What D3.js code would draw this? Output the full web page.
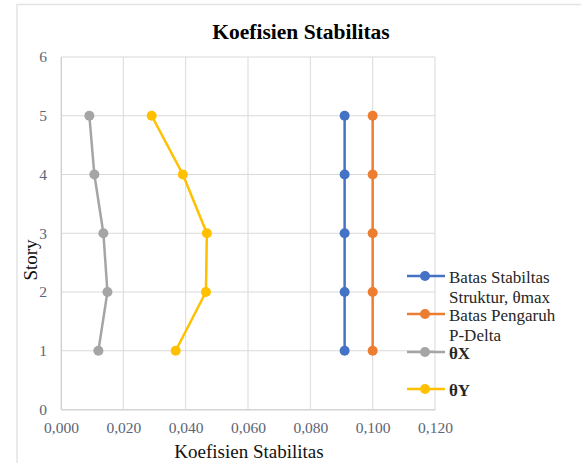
<!DOCTYPE html>
<html>
<head>
<meta charset="utf-8">
<script src="https://cdn.jsdelivr.net/npm/d3@7"></script>
<style>
  html, body { margin: 0; padding: 0; background: #fff; }
  svg { display: block; }
  text { font-family: "Liberation Serif", "Times New Roman", serif; }
</style>
</head>
<body>
<svg id="chart" width="581" height="463"></svg>
<script>
// ---- Data ----
const stories = [1, 2, 3, 4, 5];
const thetaMax = [0.091, 0.091, 0.091, 0.091, 0.091];
const pDelta = [0.100, 0.100, 0.100, 0.100, 0.100];
const thetaX = [0.0120, 0.0149, 0.0136, 0.0107, 0.0091];
const thetaY = [0.0368, 0.0465, 0.0468, 0.0391, 0.0291];
const seriesNames = [["Batas Stabiltas", "Struktur, θmax"], ["Batas Pengaruh", "P-Delta"], ["θX"], ["θY"]];
const seriesColors = ["#4472C4", "#ED7D31", "#A5A5A5", "#FFC000"];
const xTicks = [0, 0.02, 0.04, 0.06, 0.08, 0.10, 0.12];
const yTicks = [0, 1, 2, 3, 4, 5, 6];
const chartTitle = "Koefisien Stabilitas";
const xTitle = "Koefisien Stabilitas";
const yTitle = "Story";

const seriesValues = [thetaMax, pDelta, thetaX, thetaY];

// ---- Layout ----
const svg = d3.select("#chart");
const x = d3.scaleLinear().domain([0, 0.12]).range([61, 435]);
const y = d3.scaleLinear().domain([0, 6]).range([409.5, 57]);

// outer chart border (only top & left visible)
svg.append("rect")
  .attr("x", 17).attr("y", 4.5)
  .attr("width", 600).attr("height", 500)
  .attr("fill", "none").attr("stroke", "#e3e3e3").attr("stroke-width", 1.5);

// title
svg.append("text")
  .attr("x", 301).attr("y", 39)
  .attr("text-anchor", "middle")
  .attr("font-size", 21.5).attr("font-weight", "bold")
  .attr("fill", "#000")
  .text(chartTitle);

// gridlines
const grid = svg.append("g");
grid.selectAll("line.v").data(xTicks).enter().append("line")
  .attr("x1", d => x(d)).attr("x2", d => x(d))
  .attr("y1", y(6)).attr("y2", y(0))
  .attr("stroke", "#d9d9d9").attr("stroke-width", 1);
grid.selectAll("line.h").data(yTicks).enter().append("line")
  .attr("x1", x(0)).attr("x2", x(0.12))
  .attr("y1", d => y(d)).attr("y2", d => y(d))
  .attr("stroke", "#d9d9d9").attr("stroke-width", 1);

// axes
const fmt = d => d3.format(".3f")(d).replace(".", ",");
const xAxis = svg.append("g")
  .attr("transform", `translate(0,${y(0)})`)
  .call(d3.axisBottom(x).tickValues(xTicks).tickFormat(fmt).tickSize(0).tickPadding(12));
xAxis.select(".domain").attr("stroke", "#d0d0d0");
xAxis.selectAll("text")
  .attr("font-family", "Liberation Serif, serif")
  .attr("font-size", 15.5).attr("fill", "#5c6575");

const yAxis = svg.append("g")
  .attr("transform", `translate(${x(0)},0)`)
  .call(d3.axisLeft(y).tickValues(yTicks).tickFormat(d3.format("d")).tickSize(0).tickPadding(14));
yAxis.select(".domain").attr("stroke", "#d0d0d0");
yAxis.selectAll("text")
  .attr("font-family", "Liberation Serif, serif")
  .attr("font-size", 15.5).attr("fill", "#5c6575");

// axis titles
svg.append("text")
  .attr("x", 249).attr("y", 458)
  .attr("text-anchor", "middle")
  .attr("font-size", 19).attr("fill", "#111")
  .text(xTitle);
svg.append("text")
  .attr("transform", "translate(37,260) rotate(-90)")
  .attr("text-anchor", "middle")
  .attr("font-size", 19).attr("fill", "#111")
  .text(yTitle);

// series
const line = d3.line().x(d => x(d.v)).y(d => y(d.s));
seriesValues.forEach((vals, i) => {
  const pts = stories.map((s, j) => ({ s: s, v: vals[j] }));
  const g = svg.append("g");
  g.append("path").datum(pts)
    .attr("d", line)
    .attr("fill", "none")
    .attr("stroke", seriesColors[i]).attr("stroke-width", 2.5);
  g.selectAll("circle").data(pts).enter().append("circle")
    .attr("cx", d => x(d.v)).attr("cy", d => y(d.s))
    .attr("r", 5)
    .attr("fill", seriesColors[i]);
});

// legend
const legendY = [276, 314, 352, 389];
seriesNames.forEach((names, i) => {
  const g = svg.append("g").attr("transform", `translate(0,${legendY[i]})`);
  g.append("line").attr("x1", 407).attr("x2", 445).attr("y1", 0).attr("y2", 0)
    .attr("stroke", seriesColors[i]).attr("stroke-width", 2.5);
  g.append("circle").attr("cx", 425).attr("cy", 0).attr("r", 5).attr("fill", seriesColors[i]);
  names.forEach((n, k) => {
    g.append("text")
      .attr("x", 449).attr("y", 6.5 + k * 20)
      .attr("font-size", 17)
      .attr("font-weight", names.length === 1 ? "bold" : "normal")
      .attr("fill", "#262626")
      .text(n);
  });
});
</script>
</body>
</html>
